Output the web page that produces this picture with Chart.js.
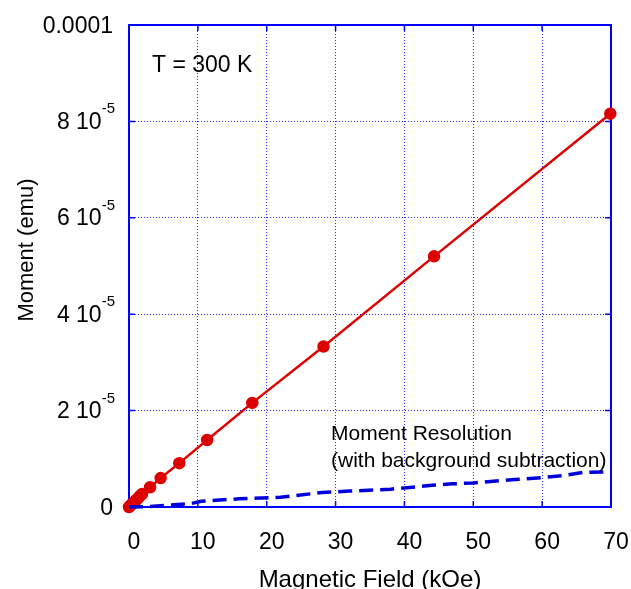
<!DOCTYPE html>
<html>
<head>
<meta charset="utf-8">
<script src="https://cdn.jsdelivr.net/npm/chart.js@4.4.1/dist/chart.umd.min.js"></script>
<style>
  html, body { margin: 0; padding: 0; background: #fff; }
  canvas { display: block; }
</style>
</head>
<body>
<canvas id="momentChart" width="631" height="589"></canvas>
<script>
// measured moment vs field at 300 K (moment in units of 1e-5 emu)
const fieldKOe = [0, 0.2, 0.4, 0.6, 0.8, 1.0, 1.3, 1.6, 1.9, 3.06, 4.6, 7.3, 11.35, 17.9, 28.25, 44.3, 69.9];
const momentE5 = [0, 0.03, 0.06, 0.08, 0.11, 0.14, 0.18, 0.23, 0.27, 0.41, 0.60, 0.91, 1.39, 2.16, 3.33, 5.20, 8.16];

// moment resolution (with background subtraction), units of 1e-5 emu
const resFieldKOe = [0, 3, 9, 10.5, 16, 22, 28, 32, 38, 44, 47, 50, 56, 60, 63, 66, 70];
const resMomentE5 = [0, 0.01, 0.07, 0.12, 0.17, 0.20, 0.30, 0.33, 0.37, 0.45, 0.48, 0.50, 0.57, 0.61, 0.65, 0.72, 0.73];

// axis ticks
const xTicks = [0, 10, 20, 30, 40, 50, 60, 70];
const yTicks = [0, 2e-5, 4e-5, 6e-5, 8e-5, 1e-4];
const yTickBase = ['0', '2 10', '4 10', '6 10', '8 10', '0.0001'];
const yTickExp = ['', '-5', '-5', '-5', '-5', ''];

const FONT = '"Liberation Sans", Arial, Helvetica, sans-serif';
const BLUE = '#0000ff';

function toPoints(xs, ys) {
    return xs.map((x, i) => ({ x: x, y: ys[i] * 1e-5 }));
}

// frame, inward tick marks and all the text
const framePlugin = {
    id: 'frame',
    beforeDatasetsDraw(chart) {
        const { ctx, chartArea: a, scales } = chart;
        ctx.save();
        ctx.strokeStyle = BLUE;
        ctx.lineWidth = 2;
        ctx.strokeRect(a.left, a.top, a.right - a.left, a.bottom - a.top);
        ctx.lineWidth = 1.5;
        ctx.beginPath();
        xTicks.forEach(v => {
            const px = scales.x.getPixelForValue(v);
            ctx.moveTo(px, a.bottom); ctx.lineTo(px, a.bottom - 6);
            ctx.moveTo(px, a.top); ctx.lineTo(px, a.top + 6);
        });
        yTicks.forEach(v => {
            const py = scales.y.getPixelForValue(v);
            ctx.moveTo(a.left, py); ctx.lineTo(a.left + 6, py);
            ctx.moveTo(a.right, py); ctx.lineTo(a.right - 6, py);
        });
        ctx.stroke();
        ctx.restore();
    },
    afterDraw(chart) {
        const { ctx, chartArea: a, scales } = chart;
        ctx.save();
        ctx.fillStyle = '#000';
        ctx.textBaseline = 'alphabetic';

        // x tick labels
        ctx.font = '23px ' + FONT;
        ctx.textAlign = 'center';
        xTicks.forEach(v => {
            ctx.fillText(String(v), scales.x.getPixelForValue(v) + 5, 548.5);
        });

        // y tick labels with superscript exponent
        const right = 115;
        yTicks.forEach((v, i) => {
            const py = scales.y.getPixelForValue(v);
            let x = right;
            ctx.textAlign = 'right';
            if (yTickExp[i]) {
                ctx.font = '15px ' + FONT;
                ctx.fillText(yTickExp[i], x, py - 8);
                x -= ctx.measureText(yTickExp[i]).width;
            } else {
                x -= 2;
            }
            ctx.font = '23px ' + FONT;
            ctx.fillText(yTickBase[i], x, py + 7.5);
        });

        // axis titles
        ctx.font = '24px ' + FONT;
        ctx.textAlign = 'center';
        ctx.fillText('Magnetic Field (kOe)', (a.left + a.right) / 2, 587);
        ctx.save();
        ctx.translate(33, 250);
        ctx.rotate(-Math.PI / 2);
        ctx.font = '22px ' + FONT;
        ctx.fillText('Moment (emu)', 0, 0);
        ctx.restore();

        // annotations
        ctx.textAlign = 'left';
        ctx.font = '23px ' + FONT;
        ctx.fillText('T = 300 K', 152, 72);
        ctx.font = '21px ' + FONT;
        ctx.fillText('Moment Resolution', 331, 440);
        ctx.fillText('(with background subtraction)', 331, 466.5);
        ctx.restore();
    }
};

const gridOpts = {
    color: '#2a2aff',
    lineWidth: 1,
    drawTicks: false,
    borderDash: [1, 2]
};

new Chart(document.getElementById('momentChart').getContext('2d'), {
    type: 'scatter',
    data: {
        datasets: [
            {
                label: 'Moment Resolution',
                data: toPoints(resFieldKOe, resMomentE5),
                showLine: true,
                borderColor: '#0000dd',
                borderWidth: 3.5,
                borderDash: [14, 7],
                pointRadius: 0,
                tension: 0,
                clip: false
            },
            {
                label: 'T = 300 K',
                data: toPoints(fieldKOe, momentE5),
                showLine: true,
                borderColor: '#dd0000',
                backgroundColor: '#dd0000',
                borderWidth: 2.5,
                pointRadius: 5.5,
                pointBorderWidth: 1.5,
                pointBorderColor: '#dd0000',
                tension: 0,
                clip: false
            }
        ]
    },
    options: {
        responsive: false,
        devicePixelRatio: 1,
        animation: false,
        layout: { padding: { top: 25, right: 20, left: 0, bottom: 0 } },
        plugins: {
            legend: { display: false },
            tooltip: { enabled: false }
        },
        scales: {
            x: {
                type: 'linear',
                min: 0,
                max: 70,
                afterBuildTicks: s => { s.ticks = xTicks.map(v => ({ value: v })); },
                ticks: { display: false },
                grid: gridOpts,
                border: { display: false, dash: [1, 2] },
                afterFit: s => { s.height = 82; }
            },
            y: {
                type: 'linear',
                min: 0,
                max: 1e-4,
                afterBuildTicks: s => { s.ticks = yTicks.map(v => ({ value: v })); },
                ticks: { display: false },
                grid: gridOpts,
                border: { display: false, dash: [1, 2] },
                afterFit: s => { s.width = 129; }
            }
        }
    },
    plugins: [framePlugin]
});
</script>
</body>
</html>
